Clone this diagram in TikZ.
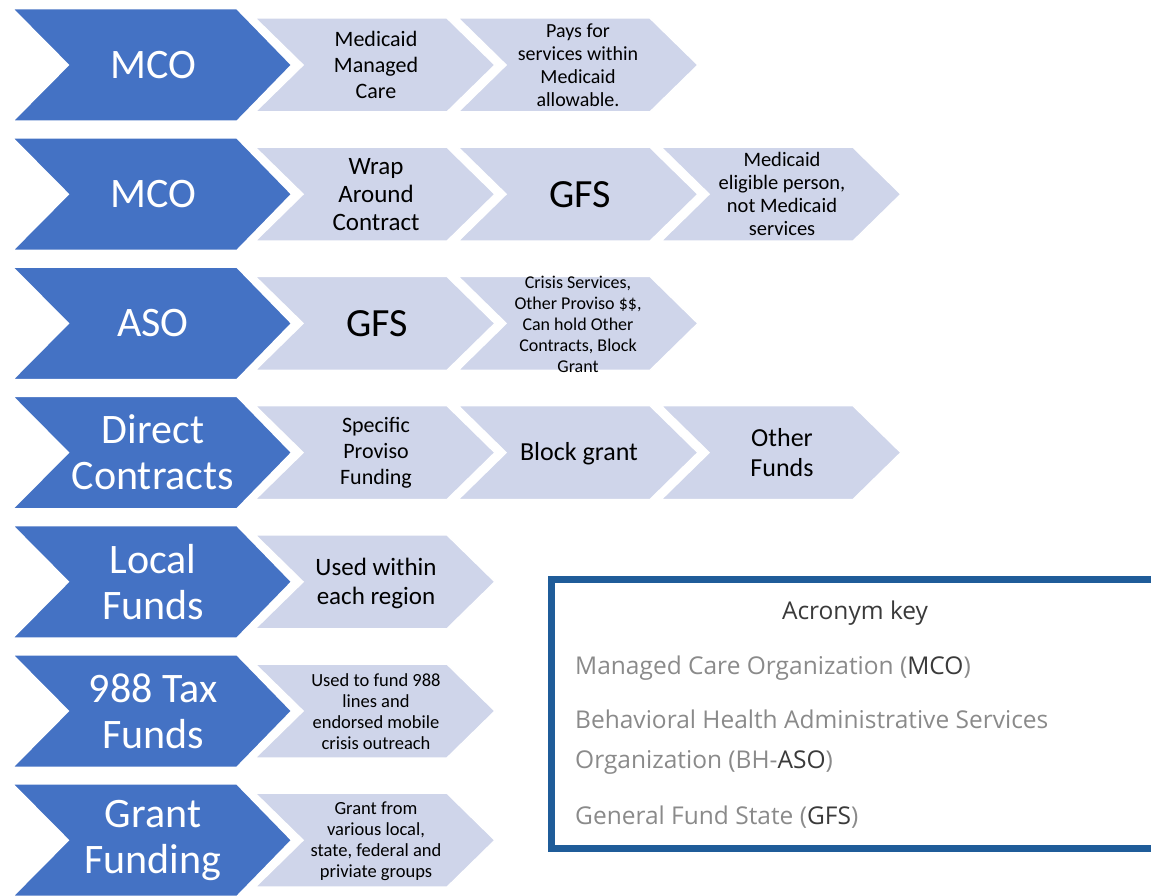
\documentclass[tikz,border=0pt]{standalone}
\usepackage{fontspec}
\setmainfont{Carlito}
\newfontfamily\keyfont{Open Sans}
\definecolor{chevblue}{HTML}{4472C4}
\definecolor{chevlight}{HTML}{CFD5EA}
\definecolor{keyframe}{HTML}{1F5C99}
\definecolor{keygrey}{HTML}{8A8A8A}
\definecolor{keydark}{HTML}{3A3A3A}
\newcommand{\fs}[2]{\fontsize{#1}{#2}\selectfont}

\begin{document}
\begin{tikzpicture}[x=1pt,y=-1pt,
    bluechev/.style={fill=chevblue, draw=white, line width=2pt, line join=miter},
    lightchev/.style={fill=chevlight, draw=white, line width=1.5pt, line join=miter},
    bluetext/.style={text=white, align=center, font=\fs{42}{46}},
    lighttext/.style={text=black, align=center},
    keyline/.style={anchor=west, inner sep=0pt, text=keygrey, font=\keyfont\fs{24.5}{28}}]
  \useasboundingbox (0,0) rectangle (1151,896);
  % light chevrons, drawn from right to left
  \foreach \c/\r in {2/2, 2/4, 1/1, 1/2, 1/3, 1/4, 0/1, 0/2, 0/3, 0/4, 0/5, 0/6, 0/7} {
    \pgfmathsetmacro{\xl}{255+203*\c}
    \pgfmathsetmacro{\yc}{65+129.2*(\r-1)}
    \draw[lightchev] (\xl,\yc-47) -- ++(192,0) -- (\xl+240,\yc) -- (\xl+192,\yc+47)
      -- (\xl,\yc+47) -- (\xl+48,\yc) -- cycle;
  }
  % blue chevrons
  \foreach \r in {1,...,7} {
    \pgfmathsetmacro{\yc}{65+129.2*(\r-1)}
    \draw[bluechev] (12,\yc-56.5) -- (237,\yc-56.5) -- (292,\yc) -- (237,\yc+56.5)
      -- (12,\yc+56.5) -- (68,\yc) -- cycle;
  }
  % row labels
  \node (mcoa) at (153,65) [bluetext] {MCO};
  \node (mcob) at (153,194.2) [bluetext] {MCO};
  \node (aso) at (153,323.4) [bluetext] {ASO};
  \node (direct) at (153,452.6) [bluetext] {Direct\\Contracts};
  \node (local) at (153,581.8) [bluetext] {Local\\Funds};
  \node (tax) at (153,711) [bluetext] {988 Tax\\Funds};
  \node (grant) at (153,840.2) [bluetext] {Grant\\Funding};
  % first column
  \node (managed) at (376,65) [lighttext, font=\fs{22}{26}] {Medicaid\\Managed\\Care};
  \node (wrap) at (376,194.2) [lighttext, font=\fs{25}{28}] {Wrap\\Around\\Contract};
  \node (gfsa) at (377,323.4) [lighttext, font=\fs{40}{44}] {GFS};
  \node (proviso) at (376,452.6) [lighttext, font=\fs{22}{26}] {Specific\\Proviso\\Funding};
  \node (region) at (376,583) [lighttext, font=\fs{25}{29}] {Used within\\each region};
  \node (fund) at (376,712) [lighttext, font=\fs{18.5}{21}] {Used to fund 988\\lines and\\endorsed mobile\\crisis outreach};
  \node (groups) at (376,841) [lighttext, font=\fs{18.5}{21}] {Grant from\\various local,\\state, federal and\\priviate groups};
  % second column
  \node (pays) at (578,65) [lighttext, font=\fs{20}{23}] {Pays for\\services within\\Medicaid\\allowable.};
  \node (gfsb) at (580,194.2) [lighttext, font=\fs{40}{44}] {GFS};
  \node (crisis) at (578,324) [lighttext, font=\fs{18}{21}] {Crisis Services,\\Other Proviso \$\$,\\Can hold Other\\Contracts, Block\\Grant};
  \node (block) at (579,454) [lighttext, font=\fs{26}{30}] {Block grant};
  % third column
  \node (eligible) at (782,194.2) [lighttext, font=\fs{20.5}{23}] {Medicaid\\eligible person,\\not Medicaid\\services};
  \node (other) at (782,453) [lighttext, font=\fs{26}{30}] {Other\\Funds};
  % acronym key
  \draw[keyframe, line width=7pt] (551,579) rectangle (1165,848);
  \node (keytitle) at (855,613) [text=keydark, inner sep=0pt, font=\keyfont\fs{24.5}{28}] {Acronym key};
  \node (keymco) at (575,668) [keyline] {Managed Care Organization (\textcolor{keydark}{MCO})};
  \node (keyaso) at (575,742) [keyline, align=left, font=\keyfont\fs{24.5}{40}] {Behavioral Health Administrative Services\\Organization (BH-\textcolor{keydark}{ASO})};
  \node (keygfs) at (575,817) [keyline] {General Fund State (\textcolor{keydark}{GFS})};
\end{tikzpicture}
\end{document}
